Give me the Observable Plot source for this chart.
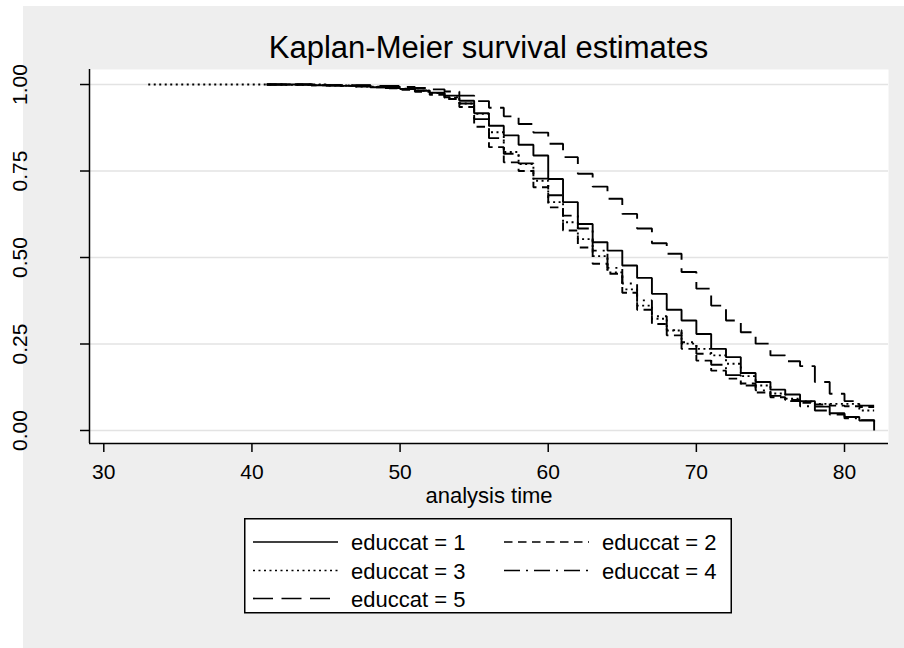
<!DOCTYPE html>
<html>
<head>
<meta charset="utf-8">
<script src="https://cdn.jsdelivr.net/npm/d3@7"></script>
<script src="https://cdn.jsdelivr.net/npm/@observablehq/plot@0.6"></script>
<style>
  html, body { margin: 0; padding: 0; background: #ffffff; }
  body { width: 904px; height: 648px; position: relative; overflow: hidden;
         font-family: "Liberation Sans", Arial, sans-serif; color: #000; }
  #bg { position: absolute; left: 23px; top: 6px; width: 881px; height: 642px; background: #eeeeee; }
  #title { position: absolute; left: 89px; width: 799px; top: 32px; text-align: center;
           font-size: 31px; line-height: 31px; white-space: nowrap; }
  #chart { position: absolute; left: 0; top: 0; }
  #legend { position: absolute; left: 244px; top: 518px; }
</style>
</head>
<body>
<div id="bg"></div>
<div id="chart"></div>
<div id="title">Kaplan-Meier survival estimates</div>
<div id="legend"></div>
<script>
// Kaplan-Meier step estimates by education category (time = age in years)
const ed1Time = [41, 44, 46, 47, 48, 49, 50, 51, 52, 53, 54, 55, 56, 57, 58, 59, 60, 61, 62, 63, 64, 65, 66, 67, 68, 69, 70, 71, 72, 73, 74, 75, 76, 77, 78, 79, 80, 81, 82];
const ed1Surv = [1, .998, .996, .994, .992, .990, .987, .982, .976, .968, .953, .917, .881, .853, .826, .795, .727, .660, .597, .544, .520, .477, .441, .395, .349, .318, .279, .236, .212, .166, .140, .118, .104, .085, .069, .050, .039, .029, 0];

const ed2Time = [41, 44, 46, 48, 49, 50, 51, 52, 53, 54, 55, 56, 57, 58, 59, 60, 61, 62, 63, 64, 65, 66, 67, 68, 69, 70, 71, 72, 73, 74, 75, 76, 77, 78, 79, 80, 81, 82];
const ed2Surv = [1, .998, .996, .992, .989, .985, .979, .970, .958, .935, .878, .819, .775, .750, .703, .645, .578, .529, .482, .453, .398, .349, .308, .275, .236, .202, .173, .150, .136, .110, .096, .088, .080, .075, .072, .070, .068, .068];

const ed3Time = [33, 42, 45, 47, 49, 50, 51, 52, 53, 54, 55, 56, 57, 58, 59, 60, 61, 62, 63, 64, 65, 66, 67, 68, 69, 70, 71, 72, 73, 74, 75, 76, 77, 78, 79, 80, 81, 82];
const ed3Surv = [1, .999, .997, .994, .990, .987, .982, .975, .962, .945, .915, .862, .805, .770, .722, .660, .602, .553, .504, .457, .408, .361, .323, .289, .251, .236, .217, .193, .157, .130, .107, .092, .084, .077, .077, .077, .058, .058];

const ed4Time = [41, 45, 48, 50, 51, 52, 53, 54, 55, 56, 57, 58, 59, 60, 61, 62, 63, 64, 65, 66, 67, 68, 69, 70, 71, 72, 73, 74, 75, 76, 77, 78, 79, 80, 81, 82];
const ed4Surv = [1, .997, .993, .988, .983, .975, .963, .945, .900, .845, .800, .772, .728, .680, .621, .584, .520, .470, .425, .376, .330, .290, .255, .222, .190, .160, .130, .116, .100, .085, .070, .058, .046, .035, .030, .025];

const ed5Time = [41, 45, 48, 50, 51, 52, 53, 54, 55, 56, 57, 58, 59, 60, 61, 62, 63, 64, 65, 66, 67, 68, 69, 70, 71, 72, 73, 74, 75, 76, 77, 78, 79, 80, 81, 82];
const ed5Surv = [1, .998, .996, .993, .990, .986, .980, .968, .952, .933, .908, .886, .861, .829, .790, .742, .705, .670, .626, .584, .541, .511, .458, .410, .361, .318, .284, .251, .217, .200, .186, .140, .106, .085, .072, .072];

const groupLabels = ["educcat = 1", "educcat = 2", "educcat = 3", "educcat = 4", "educcat = 5"];
const xTicks = [30, 40, 50, 60, 70, 80];
const yTicks = [0, 0.25, 0.5, 0.75, 1];

// line pattern for each group: solid, dash, dot, dash-dot, long dash
const dashes = ["none", "8.5,5.5", "2,3.5", "16,6,2,6", "20,8.5"];

const groups = [
  [ed1Time, ed1Surv], [ed2Time, ed2Surv], [ed3Time, ed3Surv], [ed4Time, ed4Surv], [ed5Time, ed5Surv]
].map(([t, s], i) => t.map((time, j) => ({group: groupLabels[i], time, surv: s[j]})));

const xDomain = [29.035, 82.97];
const yDomain = [-0.0376, 1.0434];

const chart = Plot.plot({
  width: 904,
  height: 510,
  marginLeft: 89,
  marginRight: 16,
  marginTop: 69,
  marginBottom: 67,
  style: {background: "transparent", fontFamily: "Liberation Sans, Arial, sans-serif", color: "#000"},
  x: {domain: xDomain},
  y: {domain: yDomain},
  marks: [
    Plot.frame({fill: "white", stroke: null}),
    Plot.ruleY(yTicks, {stroke: "#e3e3e3", strokeWidth: 1.6}),
    ...groups.map((g, i) => Plot.line(g, {
      x: "time", y: "surv", curve: "step-after",
      stroke: "black", strokeWidth: 1.9, strokeDasharray: dashes[i],
      strokeLinecap: "butt", strokeLinejoin: "miter"
    })),
    Plot.ruleX([xDomain[0]], {stroke: "black", strokeWidth: 1.5}),
    Plot.ruleY([yDomain[0]], {stroke: "black", strokeWidth: 1.5}),
    Plot.axisX({ticks: xTicks, tickSize: 9, tickPadding: 12, fontSize: 21, label: null, strokeWidth: 1.5}),
    Plot.axisY({ticks: yTicks, tickSize: 9, tickPadding: 54, tickRotate: -90, fontSize: 21,
                tickFormat: d => d.toFixed(2), label: null, strokeWidth: 1.5}),
    Plot.text(["analysis time"], {frameAnchor: "bottom", dy: 59, fontSize: 22})
  ]
});
document.getElementById("chart").appendChild(chart);

// legend box below the axis title
const lg = d3.select("#legend").append("svg")
  .attr("width", 490).attr("height", 98)
  .style("font-family", "Liberation Sans, Arial, sans-serif");
lg.append("rect").attr("x", 0.75).attr("y", 0.75).attr("width", 486.5).attr("height", 94)
  .attr("fill", "white").attr("stroke", "black").attr("stroke-width", 1.5);
const rowY = [24, 52.5, 80.5];
groupLabels.forEach((label, i) => {
  const col = i % 2, row = Math.floor(i / 2);
  const x0 = col === 0 ? 9 : 260;
  const y = rowY[row];
  lg.append("line").attr("x1", x0).attr("x2", x0 + 85).attr("y1", y).attr("y2", y)
    .attr("stroke", "black").attr("stroke-width", 1.7)
    .attr("stroke-dasharray", dashes[i] === "none" ? null : dashes[i]);
  lg.append("text").attr("x", x0 + 98).attr("y", y + 8).attr("font-size", 22).text(label);
});
</script>
</body>
</html>
